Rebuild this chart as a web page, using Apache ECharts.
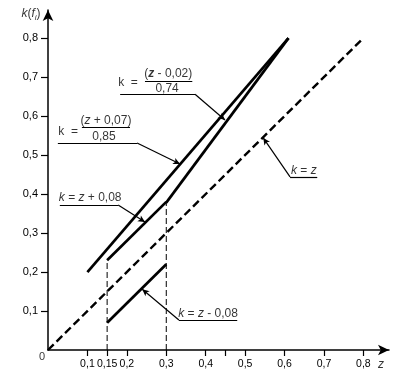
<!DOCTYPE html>
<html>
<head>
<meta charset="utf-8">
<script src="https://cdn.jsdelivr.net/npm/echarts@6/dist/echarts.min.js"></script>
<style>html,body{margin:0;padding:0;background:#fff}#c{width:406px;height:382px}</style>
</head>
<body>
<div id="c"></div>
<script>
// ---- data ----
const zTickValues = [0.1, 0.15, 0.2, 0.3, 0.4, 0.45, 0.5, 0.6, 0.7, 0.8];
const zLabelValues = [0.1, 0.15, 0.2, 0.3, 0.4, 0.5, 0.6, 0.7, 0.8];
const kLabelValues = [0.1, 0.2, 0.3, 0.4, 0.5, 0.6, 0.7, 0.8];

const lineA = [[0.1, 0.2], [0.61, 0.8]];        // k = (z + 0,07)/0,85
const lineB = [[0.15, 0.23], [0.3, 0.38]];      // k = z + 0,08
const lineC = [[0.3, 0.378], [0.61, 0.8]];      // k = (z - 0,02)/0,74
const lineD = [[0.15, 0.07], [0.3, 0.22]];      // k = z - 0,08
const lineId = [[0, 0], [0.8, 0.8]];            // k = z
const vert15 = [[0.15, 0], [0.15, 0.23]];
const vert30 = [[0.3, 0], [0.3, 0.38]];

// leader lines: [start, end, arrow?]
const leaders = [
  [[0.183, 0.656], [0.373, 0.656], false],
  [[0.373, 0.656], [0.449, 0.590], true],
  [[0.025, 0.531], [0.226, 0.531], false],
  [[0.226, 0.531], [0.335, 0.477], true],
  [[0.030, 0.372], [0.178, 0.372], false],
  [[0.178, 0.372], [0.246, 0.328], true],
  [[0.332, 0.077], [0.480, 0.077], false],
  [[0.332, 0.077], [0.239, 0.156], true],
  [[0.614, 0.444], [0.683, 0.444], false],
  [[0.614, 0.444], [0.546, 0.544], true]
];
// fraction bars
const fracBars = [
  [[0.246, 0.690], [0.366, 0.690]],
  [[0.086, 0.572], [0.208, 0.572]]
];
// texts: [z, k, rich text, align]
const texts = [
  [0.203, 0.685, 'k  =', 'center'],
  [0.305, 0.709, '({bi|z} - 0,02)', 'center'],
  [0.302, 0.669, '0,74', 'center'],
  [0.051, 0.559, 'k  =', 'center'],
  [0.147, 0.587, '({i|z} + 0,07)', 'center'],
  [0.142, 0.546, '0,85', 'center'],
  [0.107, 0.390, '{i|k} = {i|z} + 0,08', 'center'],
  [0.406, 0.094, '{i|k} = {i|z} - 0,08', 'center'],
  [0.649, 0.460, '{i|k} = {i|z}', 'center']
];

const FONT = 'Liberation Sans, Arial, sans-serif';
const fmt = v => String(v).replace('.', ',');

const chart = echarts.init(document.getElementById('c'), null, {renderer: 'canvas'});

function seg(data, width, type) {
  return {
    type: 'line', data: data, showSymbol: false, silent: true, animation: false,
    lineStyle: {color: '#000', width: width, type: type || 'solid', cap: 'butt'},
    z: 3
  };
}

const markData = leaders.map(l => [
  {coord: l[0], symbol: 'none'},
  {coord: l[1], symbol: l[2] ? 'arrow' : 'none', symbolSize: [5, 7]}
]).concat(fracBars.map(b => [{coord: b[0], symbol: 'none'}, {coord: b[1], symbol: 'none'}]));

const rich = {
  i: {fontStyle: 'italic', fontSize: 12, fontFamily: FONT, color: '#000'},
  bi: {fontStyle: 'italic', fontWeight: 'bold', fontSize: 12, fontFamily: FONT, color: '#000'}
};

chart.setOption({
  animation: false,
  grid: {left: 48, top: 10, width: 341, height: 340, containLabel: false},
  xAxis: {
    type: 'value', min: 0, max: 0.865,
    splitLine: {show: false},
    axisLine: {show: true, lineStyle: {color: '#000', width: 1.5}, symbol: ['none', 'arrow'], symbolSize: [8, 11]},
    axisTick: {show: true, customValues: zTickValues, length: 6, lineStyle: {color: '#000', width: 1.2}},
    axisLabel: {customValues: zLabelValues, formatter: fmt, color: '#000', fontSize: 10.5, fontFamily: FONT, margin: 9}
  },
  yAxis: {
    type: 'value', min: 0, max: 0.872,
    splitLine: {show: false},
    axisLine: {show: true, lineStyle: {color: '#000', width: 1.5}, symbol: ['none', 'arrow'], symbolSize: [8, 11]},
    axisTick: {show: true, customValues: kLabelValues, length: 7, lineStyle: {color: '#000', width: 1.2}},
    axisLabel: {customValues: kLabelValues, formatter: fmt, color: '#000', fontSize: 11, fontFamily: FONT, margin: 10}
  },
  series: [
    seg(lineA, 2.7), seg(lineB, 2.7), seg(lineC, 2.7), seg(lineD, 2.7),
    seg(lineId, 2.4, [8, 4]),
    seg(vert15, 1, [6, 3]), seg(vert30, 1, [6, 3]),
    {
      type: 'line', data: [], silent: true, animation: false,
      markLine: {
        silent: true, animation: false, symbol: ['none', 'none'],
        label: {show: false}, emphasis: {disabled: true},
        lineStyle: {color: '#000', width: 1.2, type: 'solid'},
        data: markData
      }
    },
    {
      type: 'scatter', silent: true, animation: false, clip: false,
      symbolSize: 1, itemStyle: {color: 'rgba(0,0,0,0)'},
      data: texts.map(t => ({
        value: [t[0], t[1]],
        label: {
          show: true, position: 'inside', formatter: t[2], align: t[3], verticalAlign: 'middle',
          color: '#000', fontSize: 12, fontFamily: FONT, rich: rich
        }
      })).concat([
        {value: [0, 0], label: {show: true, position: 'inside', formatter: '0', offset: [-6, 7],
          color: '#000', fontSize: 11, fontFamily: FONT}},
        {value: [0.85, 0], label: {show: true, position: 'inside', formatter: '{i|z}', offset: [-2, 15], rich: rich}},
        {value: [0, 0.862], label: {show: true, position: 'inside', formatter: '{i|k}({i|f}{s|i})', offset: [-17, 0],
          color: '#000', fontSize: 12, fontFamily: FONT,
          rich: {i: {fontStyle: 'italic', fontSize: 12, fontFamily: FONT, color: '#000'},
                 s: {fontStyle: 'italic', fontSize: 8, fontFamily: FONT, color: '#000', padding: [7, 0, 0, 0]}}}}
      ])
    }
  ]
});
</script>
</body>
</html>
